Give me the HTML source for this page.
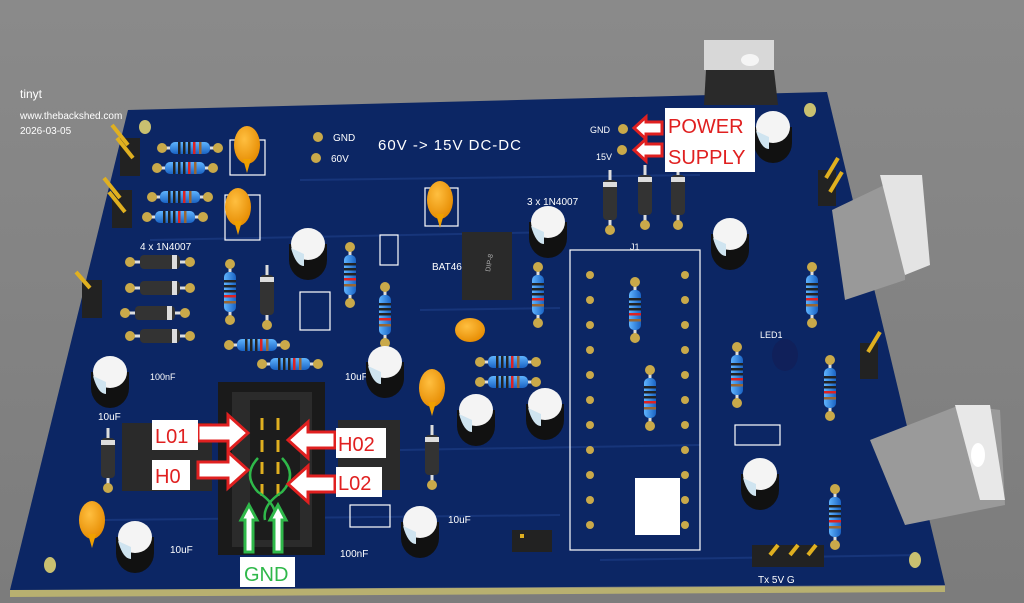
<!DOCTYPE html>
<html><head><meta charset="utf-8"><style>
html,body{margin:0;padding:0;background:#868686;}
svg{display:block;font-family:"Liberation Sans",sans-serif;}
</style></head><body>
<svg width="1024" height="603" viewBox="0 0 1024 603" xmlns="http://www.w3.org/2000/svg">
<defs>
<linearGradient id="bg" x1="0" y1="0" x2="0" y2="1"><stop offset="0" stop-color="#8a8a8a"/><stop offset="1" stop-color="#7c7c7c"/></linearGradient>
<linearGradient id="res" x1="0" y1="0" x2="0" y2="1"><stop offset="0" stop-color="#5fb4ff"/><stop offset="1" stop-color="#1a63c4"/></linearGradient>
<linearGradient id="resv" x1="0" y1="0" x2="1" y2="0"><stop offset="0" stop-color="#5fb4ff"/><stop offset="1" stop-color="#1a63c4"/></linearGradient>
<radialGradient id="cap" cx="0.4" cy="0.35" r="0.7"><stop offset="0" stop-color="#ffbf40"/><stop offset="1" stop-color="#e58a00"/></radialGradient>
<g id="rh"><line x1="-28" y1="0" x2="28" y2="0" stroke="#ddd" stroke-width="3"/><rect x="-20" y="-6" width="40" height="12" rx="5" fill="url(#res)"/><rect x="-12" y="-6" width="2.5" height="12" fill="#222"/><rect x="-7" y="-6" width="2.5" height="12" fill="#222"/><rect x="-2" y="-6" width="2.5" height="12" fill="#222"/><rect x="3" y="-6" width="2.5" height="12" fill="#d22"/><rect x="9" y="-6" width="2.5" height="12" fill="#963"/><circle cx="-28" cy="0" r="5" fill="#c9a94a"/><circle cx="28" cy="0" r="5" fill="#c9a94a"/></g>
<g id="rv"><line x1="0" y1="-28" x2="0" y2="28" stroke="#ddd" stroke-width="3"/><rect x="-6" y="-20" width="12" height="40" rx="5" fill="url(#resv)"/><rect x="-6" y="-12" width="12" height="2.5" fill="#222"/><rect x="-6" y="-7" width="12" height="2.5" fill="#222"/><rect x="-6" y="-2" width="12" height="2.5" fill="#222"/><rect x="-6" y="3" width="12" height="2.5" fill="#d22"/><rect x="-6" y="9" width="12" height="2.5" fill="#963"/><circle cx="0" cy="-28" r="5" fill="#c9a94a"/><circle cx="0" cy="28" r="5" fill="#c9a94a"/></g>
<g id="el"><ellipse cx="0" cy="8" rx="19" ry="20" fill="#111"/><rect x="-19" y="-8" width="38" height="16" fill="#111"/><ellipse cx="0" cy="-8" rx="17" ry="16" fill="#f4f4f4"/><path d="M-17,-4 Q-12,14 -4,14 L-4,2 Z" fill="#cfe4f0"/></g>
<g id="dh"><line x1="-30" y1="0" x2="30" y2="0" stroke="#ddd" stroke-width="3"/><rect x="-20" y="-7" width="40" height="14" rx="4" fill="#333"/><rect x="12" y="-7" width="5" height="14" fill="#ddd"/><circle cx="-30" cy="0" r="5" fill="#c9a94a"/><circle cx="30" cy="0" r="5" fill="#c9a94a"/></g>
<g id="dv"><line x1="0" y1="-30" x2="0" y2="30" stroke="#ddd" stroke-width="3"/><rect x="-7" y="-20" width="14" height="40" rx="4" fill="#333"/><rect x="-7" y="-18" width="14" height="5" fill="#ddd"/><circle cx="0" cy="30" r="5" fill="#c9a94a"/></g>
<g id="oc"><ellipse cx="0" cy="0" rx="13" ry="19" fill="url(#cap)"/><path d="M-4,14 L0,28 L4,14Z" fill="#f0a000"/></g>
</defs>
<rect width="1024" height="603" fill="url(#bg)"/>
<!-- board -->
<polygon points="10,590 945,586 945,592 10,597" fill="#b8b070"/>
<polygon points="128,110 827,92 945,585 10,590" fill="#0c2664"/>
<!-- traces -->
<g stroke="#17357a" stroke-width="2" fill="none">
<line x1="150" y1="240" x2="560" y2="232"/><line x1="300" y1="180" x2="700" y2="175"/><line x1="100" y1="520" x2="560" y2="515"/><line x1="600" y1="560" x2="920" y2="555"/><line x1="420" y1="310" x2="560" y2="308"/><line x1="400" y1="450" x2="700" y2="445"/>
</g>
<!-- header text -->
<text x="20" y="98" font-size="12" fill="#fff">tinyt</text>
<text x="20" y="119" font-size="10" fill="#fff">www.thebackshed.com</text>
<text x="20" y="134" font-size="10" fill="#fff">2026-03-05</text>
<text x="378" y="150" font-size="15" fill="#fff" letter-spacing="1">60V -&gt; 15V DC-DC</text>
<circle cx="318" cy="137" r="5" fill="#c9a94a"/><text x="333" y="141" font-size="10" fill="#fff">GND</text>
<circle cx="316" cy="158" r="5" fill="#c9a94a"/><text x="331" y="162" font-size="10" fill="#fff">60V</text>
<circle cx="623" cy="129" r="5" fill="#c9a94a"/><text x="590" y="133" font-size="9" fill="#fff">GND</text>
<circle cx="622" cy="150" r="5" fill="#c9a94a"/><text x="596" y="160" font-size="9" fill="#fff">15V</text>
<text x="140" y="250" font-size="10" fill="#fff">4 x 1N4007</text>
<text x="527" y="205" font-size="10" fill="#fff">3 x 1N4007</text>
<text x="512" y="545" font-size="10" fill="#fff">ON/OFF</text>
<text x="758" y="583" font-size="10" fill="#fff">Tx 5V G</text>
<text x="760" y="338" font-size="9" fill="#fff">LED1</text>
<text x="630" y="250" font-size="9" fill="#fff">J1</text>
<text x="150" y="380" font-size="9" fill="#fff">100nF</text>
<text x="98" y="420" font-size="10" fill="#fff">10uF</text>
<text x="170" y="553" font-size="10" fill="#fff">10uF</text>
<text x="340" y="557" font-size="10" fill="#fff">100nF</text>
<text x="448" y="523" font-size="10" fill="#fff">10uF</text>
<text x="345" y="380" font-size="10" fill="#fff">10uF</text>
<text x="432" y="270" font-size="10" fill="#fff">BAT46</text>
<!-- mounting holes -->
<g fill="#c9c070"><ellipse cx="145" cy="127" rx="6" ry="7"/><ellipse cx="810" cy="110" rx="6" ry="7"/><ellipse cx="50" cy="565" rx="6" ry="8"/><ellipse cx="915" cy="560" rx="6" ry="8"/></g>
<!-- silkscreen boxes -->
<g fill="none" stroke="#fff" stroke-width="1.2">
<rect x="570" y="250" width="130" height="300"/><rect x="425" y="188" width="33" height="38"/><rect x="380" y="235" width="18" height="30"/><rect x="230" y="140" width="35" height="35"/><rect x="225" y="195" width="35" height="45"/><rect x="300" y="292" width="30" height="38"/>
<rect x="735" y="425" width="45" height="20"/><rect x="350" y="505" width="40" height="22"/>
</g>
<!-- DIP chip socket pads -->
<g fill="#c9a94a">
<circle cx="590" cy="275" r="4"/><circle cx="590" cy="300" r="4"/><circle cx="590" cy="325" r="4"/><circle cx="590" cy="350" r="4"/><circle cx="590" cy="375" r="4"/><circle cx="590" cy="400" r="4"/><circle cx="590" cy="425" r="4"/><circle cx="590" cy="450" r="4"/><circle cx="590" cy="475" r="4"/><circle cx="590" cy="500" r="4"/><circle cx="590" cy="525" r="4"/>
<circle cx="685" cy="275" r="4"/><circle cx="685" cy="300" r="4"/><circle cx="685" cy="325" r="4"/><circle cx="685" cy="350" r="4"/><circle cx="685" cy="375" r="4"/><circle cx="685" cy="400" r="4"/><circle cx="685" cy="425" r="4"/><circle cx="685" cy="450" r="4"/><circle cx="685" cy="475" r="4"/><circle cx="685" cy="500" r="4"/><circle cx="685" cy="525" r="4"/>
</g>
<rect x="635" y="478" width="45" height="57" fill="#fff"/>
<!-- resistors -->
<use href="#rh" x="190" y="148"/><use href="#rh" x="185" y="168"/><use href="#rh" x="180" y="197"/><use href="#rh" x="175" y="217"/>
<use href="#rh" x="257" y="345"/><use href="#rh" x="290" y="364"/><use href="#rh" x="508" y="362"/><use href="#rh" x="508" y="382"/>
<use href="#rv" x="230" y="292"/><use href="#rv" x="350" y="275"/><use href="#rv" x="385" y="315"/><use href="#rv" x="538" y="295"/><use href="#rv" x="635" y="310"/><use href="#rv" x="650" y="398"/><use href="#rv" x="737" y="375"/><use href="#rv" x="812" y="295"/><use href="#rv" x="830" y="388"/><use href="#rv" x="835" y="517"/>
<!-- diodes -->
<use href="#dh" x="160" y="262"/><use href="#dh" x="160" y="288"/><use href="#dh" x="155" y="313"/><use href="#dh" x="160" y="336"/>
<use href="#dv" x="267" y="295"/><use href="#dv" x="610" y="200"/><use href="#dv" x="645" y="195"/><use href="#dv" x="678" y="195"/><use href="#dv" x="108" y="458"/><use href="#dv" x="432" y="455"/>
<!-- ceramic caps -->
<use href="#oc" x="247" y="145"/><use href="#oc" x="238" y="207"/><use href="#oc" x="440" y="200"/><use href="#oc" x="432" y="388"/><use href="#oc" x="92" y="520"/>
<ellipse cx="470" cy="330" rx="15" ry="12" fill="url(#cap)"/>
<!-- electrolytics -->
<use href="#el" x="308" y="252"/><use href="#el" x="548" y="230"/><use href="#el" x="730" y="242"/><use href="#el" x="385" y="370"/><use href="#el" x="110" y="380"/><use href="#el" x="476" y="418"/><use href="#el" x="545" y="412"/><use href="#el" x="760" y="482"/><use href="#el" x="420" y="530"/><use href="#el" x="135" y="545"/><use href="#el" x="773" y="135"/>
<ellipse cx="785" cy="355" rx="13" ry="16" fill="#10205a"/>
<!-- ICs -->
<rect x="462" y="232" width="50" height="68" fill="#2a2a2a"/><text x="490" y="272" font-size="7" fill="#aaa" transform="rotate(-80 490 272)">DIP-8</text>
<rect x="122" y="423" width="90" height="68" fill="#2a2a2a"/>
<rect x="338" y="420" width="62" height="70" fill="#2a2a2a"/>
<!-- header pins -->
<g fill="#222"><rect x="120" y="138" width="20" height="38"/><rect x="112" y="190" width="20" height="38"/><rect x="82" y="280" width="20" height="38"/><rect x="818" y="170" width="18" height="36"/><rect x="860" y="343" width="18" height="36"/><rect x="512" y="530" width="40" height="22"/><rect x="752" y="545" width="72" height="22"/></g>
<g stroke="#e0b020" stroke-width="4"><line x1="128" y1="145" x2="112" y2="125"/><line x1="133" y1="158" x2="117" y2="138"/><line x1="120" y1="198" x2="104" y2="178"/><line x1="125" y1="212" x2="109" y2="192"/><line x1="90" y1="288" x2="76" y2="272"/><line x1="826" y1="178" x2="838" y2="158"/><line x1="830" y1="192" x2="842" y2="172"/><line x1="868" y1="352" x2="880" y2="332"/><line x1="522" y1="538" x2="522" y2="534"/><line x1="770" y1="555" x2="778" y2="545"/><line x1="790" y1="555" x2="798" y2="545"/><line x1="808" y1="555" x2="816" y2="545"/></g>
<!-- TO-220 parts -->
<rect x="704" y="40" width="70" height="30" fill="#d8d8d8"/><ellipse cx="750" cy="60" rx="9" ry="6" fill="#f5f5f5"/><polygon points="706,70 774,70 778,105 704,105" fill="#2a2a2a"/>
<polygon points="832,210 905,175 905,280 845,300" fill="#999"/><polygon points="880,175 922,175 930,265 905,275" fill="#e4e4e4"/>
<polygon points="870,440 960,405 1000,410 1005,505 905,525" fill="#9a9a9a"/><polygon points="955,405 990,405 1005,500 980,500" fill="#e8e8e8"/><ellipse cx="978" cy="455" rx="7" ry="12" fill="#fff"/>
<!-- big connector -->
<rect x="218" y="382" width="107" height="173" fill="#1a1a1a"/><rect x="232" y="392" width="80" height="155" fill="#2b2b2b"/><rect x="250" y="400" width="50" height="140" fill="#1c1c1c"/>
<g stroke="#e0b020" stroke-width="3"><line x1="262" y1="418" x2="262" y2="430"/><line x1="278" y1="418" x2="278" y2="430"/><line x1="262" y1="440" x2="262" y2="452"/><line x1="278" y1="440" x2="278" y2="452"/><line x1="262" y1="462" x2="262" y2="474"/><line x1="278" y1="462" x2="278" y2="474"/><line x1="262" y1="484" x2="262" y2="496"/><line x1="278" y1="484" x2="278" y2="496"/></g>
<path d="M258,458 Q242,475 258,492 Q278,505 275,520 M282,458 Q298,475 282,492 Q262,505 265,520" stroke="#2fb84a" stroke-width="2.5" fill="none"/>
<!-- green arrows -->
<g fill="#fff" stroke="#2fb84a" stroke-width="3"><polygon points="249,505 241,520 245,520 245,552 253,552 253,520 257,520"/><polygon points="278,505 270,520 274,520 274,552 282,552 282,520 286,520"/></g>
<rect x="240" y="557" width="55" height="30" fill="#fff"/><text x="244" y="581" font-size="20" fill="#2fb84a">GND</text>
<!-- red labels -->
<g fill="#fff" stroke="#e02020" stroke-width="3">
<polygon points="198,425 228,425 228,415 248,433 228,451 228,441 198,441"/>
<polygon points="198,462 228,462 228,452 248,470 228,488 228,478 198,478"/>
<polygon points="335,432 308,432 308,422 288,440 308,458 308,448 335,448"/>
<polygon points="335,476 308,476 308,466 288,484 308,502 308,492 335,492"/>
<polygon points="662,122 646,122 646,117 634,128 646,139 646,134 662,134"/>
<polygon points="662,144 646,144 646,139 634,150 646,161 646,156 662,156"/>
</g>
<g font-size="20" fill="#e02020">
<rect x="152" y="420" width="46" height="30" fill="#fff"/><text x="155" y="443">L01</text>
<rect x="152" y="460" width="38" height="30" fill="#fff"/><text x="155" y="483">H0</text>
<rect x="336" y="428" width="50" height="30" fill="#fff"/><text x="338" y="451">H02</text>
<rect x="336" y="467" width="46" height="30" fill="#fff"/><text x="338" y="490">L02</text>
<rect x="665" y="108" width="90" height="64" fill="#fff"/><text x="668" y="133">POWER</text><text x="668" y="164">SUPPLY</text>
</g>
</svg>
</body></html>
